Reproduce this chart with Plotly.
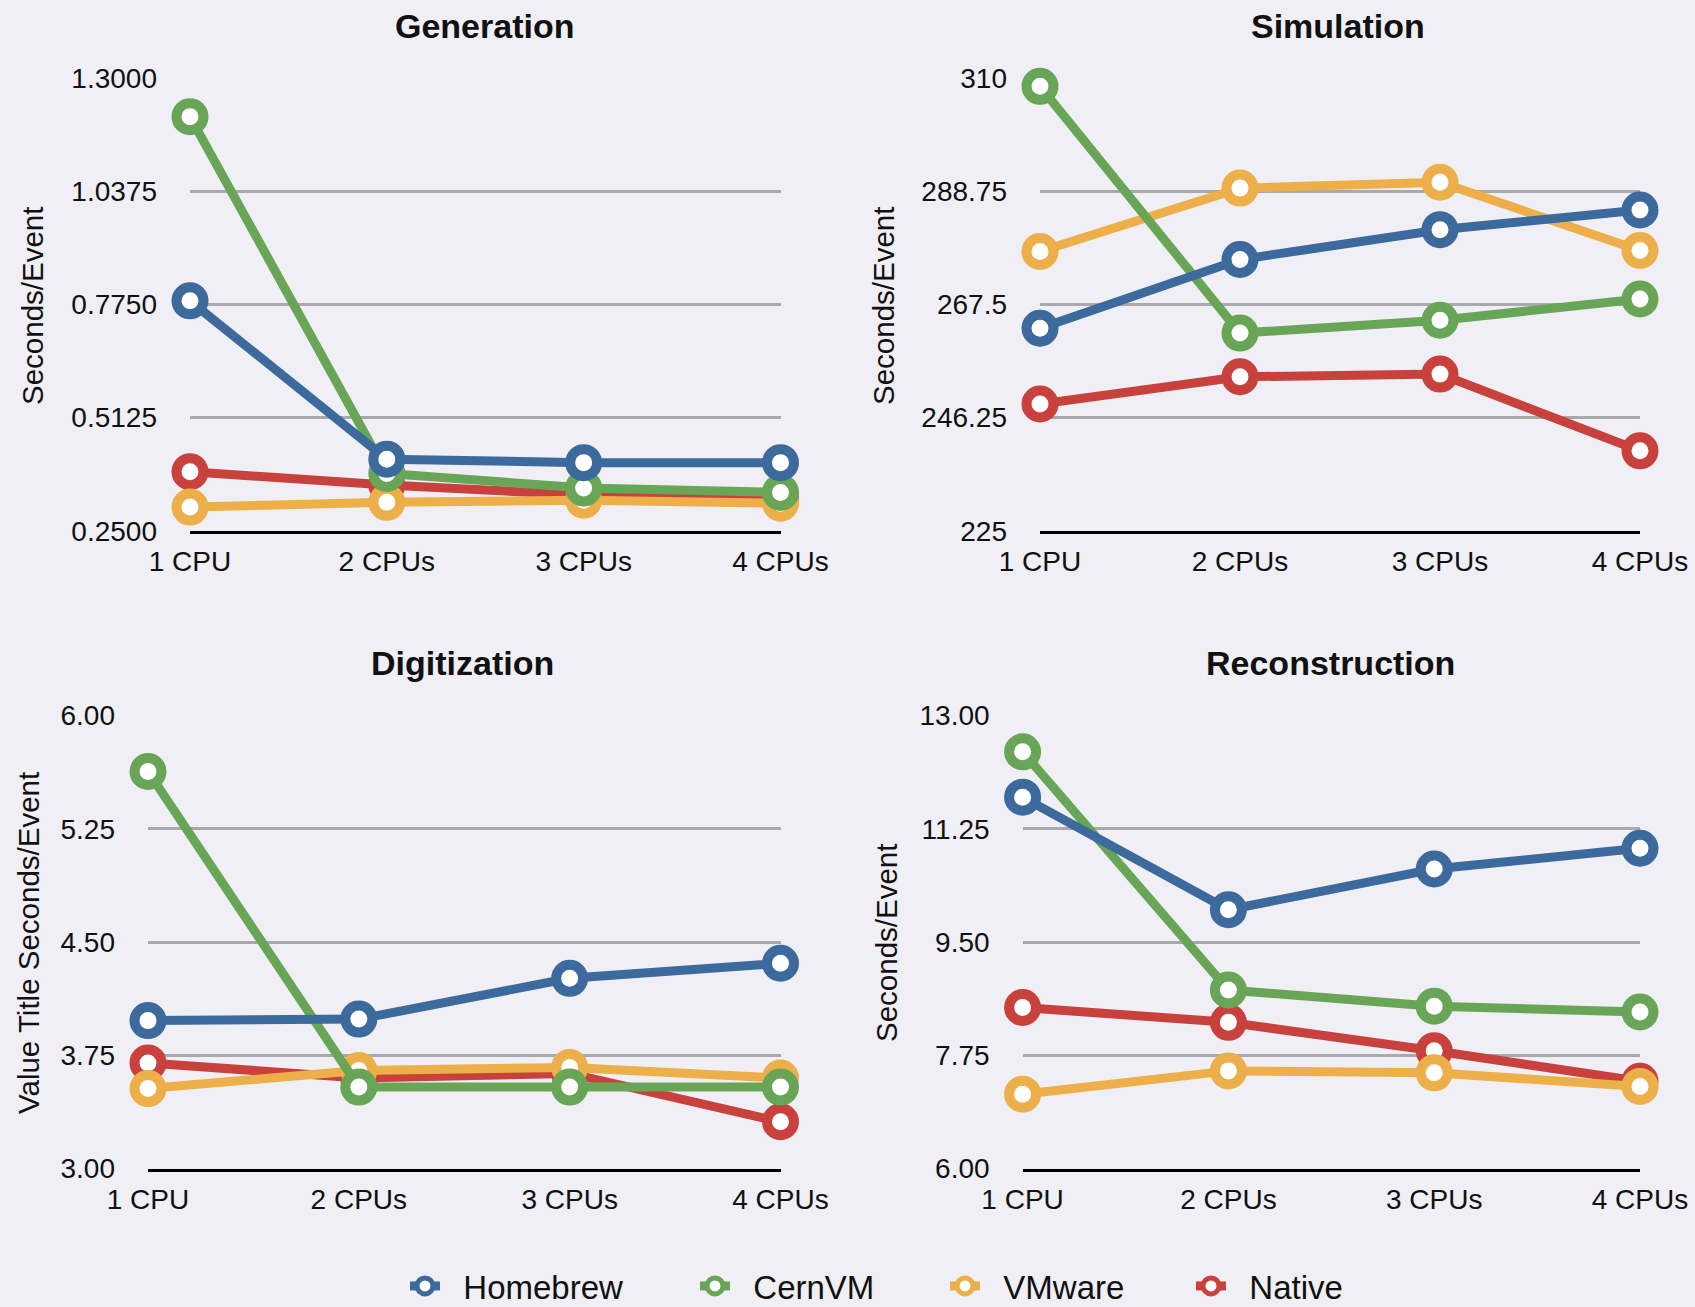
import plotly.graph_objects as go

W, H = 1695, 1307
MB = 70            # bottom margin reserved for the legend
HP = H - MB        # plot-area height

categories = ["1 CPU", "2 CPUs", "3 CPUs", "4 CPUs"]
series_names = ["Homebrew", "CernVM", "VMware", "Native"]
series_colors = ["#3c6a9c", "#69a556", "#ecaf4a", "#c9413c"]

gen_homebrew = [0.783, 0.416, 0.408, 0.408]
gen_cernvm = [1.21, 0.383, 0.349, 0.339]
gen_vmware = [0.305, 0.316, 0.321, 0.314]
gen_native = [0.387, 0.356, 0.333, 0.326]

sim_homebrew = [263.0, 275.9, 281.5, 285.2]
sim_cernvm = [308.4, 262.1, 264.5, 268.5]
sim_vmware = [277.4, 289.3, 290.4, 277.6]
sim_native = [248.8, 253.9, 254.4, 240.0]

dig_homebrew = [3.98, 3.99, 4.26, 4.36]
dig_cernvm = [5.63, 3.54, 3.54, 3.54]
dig_vmware = [3.53, 3.65, 3.67, 3.60]
dig_native = [3.70, 3.60, 3.63, 3.31]

rec_homebrew = [11.74, 10.00, 10.63, 10.95]
rec_cernvm = [12.44, 8.76, 8.51, 8.42]
rec_vmware = [7.15, 7.51, 7.48, 7.27]
rec_native = [8.49, 8.26, 7.82, 7.35]

gen_ticks = [0.25, 0.5125, 0.775, 1.0375, 1.3]
gen_ticktext = ["0.2500", "0.5125", "0.7750", "1.0375", "1.3000"]
sim_ticks = [225, 246.25, 267.5, 288.75, 310]
sim_ticktext = ["225", "246.25", "267.5", "288.75", "310"]
dig_ticks = [3.0, 3.75, 4.5, 5.25, 6.0]
dig_ticktext = ["3.00", "3.75", "4.50", "5.25", "6.00"]
rec_ticks = [6.0, 7.75, 9.5, 11.25, 13.0]
rec_ticktext = ["6.00", "7.75", "9.50", "11.25", "13.00"]

panel_titles = ["Generation", "Simulation", "Digitization", "Reconstruction"]
y_titles = ["Seconds/Event", "Seconds/Event", "Value Title Seconds/Event", "Seconds/Event"]

panels = [
    dict(data=[gen_homebrew, gen_cernvm, gen_vmware, gen_native], ticks=gen_ticks, ticktext=gen_ticktext),
    dict(data=[sim_homebrew, sim_cernvm, sim_vmware, sim_native], ticks=sim_ticks, ticktext=sim_ticktext),
    dict(data=[dig_homebrew, dig_cernvm, dig_vmware, dig_native], ticks=dig_ticks, ticktext=dig_ticktext),
    dict(data=[rec_homebrew, rec_cernvm, rec_vmware, rec_native], ticks=rec_ticks, ticktext=rec_ticktext),
]

# layout geometry in pixels from top-left: (x0, x1, ytop, ybottom)
geom = [
    (190, 780.5, 77.8, 530.8),
    (1040, 1640, 77.8, 530.8),
    (148, 780.5, 715.6, 1168.6),
    (1022.6, 1640, 715.6, 1168.6),
]
title_pos = [(448 * 1.081, 26), (1238 * 1.081, 26), (428 * 1.081, 663), (1231 * 1.081, 663)]
ytitle_pos = [(32, 306), (883, 306), (28, 943), (886, 943)]
legend_marker_x = [425, 715, 965, 1211]


def fx(px):
    return px / W


def fy(py):
    return (HP - py) / HP


FONT = "Liberation Sans"
fig = go.Figure()

draw_order = [3, 2, 1, 0]  # Native bottom, Homebrew top
for p, panel in enumerate(panels):
    ax = "" if p == 0 else str(p + 1)
    for s in draw_order:
        fig.add_trace(go.Scatter(
            x=categories, y=panel["data"][s], name="\u00a0\u00a0" + series_names[s],
            mode="lines+markers",
            line=dict(color=series_colors[s], width=9),
            marker=dict(size=27, color="white", line=dict(color=series_colors[s], width=10)),
            xaxis="x" + ax, yaxis="y" + ax,
            cliponaxis=False,
            showlegend=(p == 0),
            legend=("legend" if s == 0 else "legend" + str(s + 1)),
            hovertemplate=series_names[s] + ": %{y}<extra></extra>",
        ))

layout = dict(
    template="none",
    width=W, height=H, autosize=False,
    margin=dict(l=0, r=0, t=0, b=MB, pad=0),
    paper_bgcolor="#f0eff5",
    plot_bgcolor="rgba(0,0,0,0)",
    font=dict(family=FONT, color="#111111"),
    annotations=[],
)

for p, panel in enumerate(panels):
    ax = "" if p == 0 else str(p + 1)
    x0, x1, yt, yb = geom[p]
    layout["xaxis" + ax] = dict(
        domain=[fx(x0), fx(x1)], anchor="y" + ax,
        type="category", range=[0, 3], automargin=False,
        showgrid=False, zeroline=False,
        showline=True, linecolor="#000000", linewidth=3,
        ticks="", tickfont=dict(size=28, family=FONT, color="#111111"),
        ticklabelstandoff=4,
        fixedrange=True,
    )
    layout["yaxis" + ax] = dict(
        domain=[fy(yb), fy(yt)], anchor="x" + ax,
        range=[panel["ticks"][0], panel["ticks"][-1]], automargin=False,
        tickmode="array", tickvals=panel["ticks"], ticktext=panel["ticktext"],
        showgrid=True, gridcolor="#a9a9ab", gridwidth=2.5,
        zeroline=False, showline=False, ticks="",
        tickfont=dict(size=28, family=FONT, color="#111111"),
        ticklabelstandoff=32,
        fixedrange=True,
    )
    tx, ty = title_pos[p]
    layout["annotations"].append(dict(
        text=panel_titles[p], x=fx(tx), y=fy(ty), xref="paper", yref="paper",
        xanchor="center", yanchor="middle", showarrow=False,
        font=dict(size=34, family=FONT, color="#111111", weight="bold"),
    ))
    ax_x, ax_y = ytitle_pos[p]
    layout["annotations"].append(dict(
        text=y_titles[p], x=fx(ax_x), y=fy(ax_y), xref="paper", yref="paper",
        xanchor="center", yanchor="middle", showarrow=False, textangle=-90,
        font=dict(size=29.5, family=FONT, color="#111111"),
    ))

for s in range(4):
    key = "legend" if s == 0 else "legend" + str(s + 1)
    layout[key] = dict(
        orientation="h", x=(legend_marker_x[s] - 20) / W, xanchor="left", xref="paper",
        y=1 - 1286 / H, yanchor="middle", yref="container",
        bgcolor="rgba(0,0,0,0)", itemwidth=30, borderwidth=0,
        font=dict(size=33, family=FONT, color="#111111"),
    )

fig.update_layout(**layout)
fig.write_html(
    "out.html",
    config={"displayModeBar": False},
    post_script="document.body.style.margin='0px';document.body.style.overflow='hidden';",
)
